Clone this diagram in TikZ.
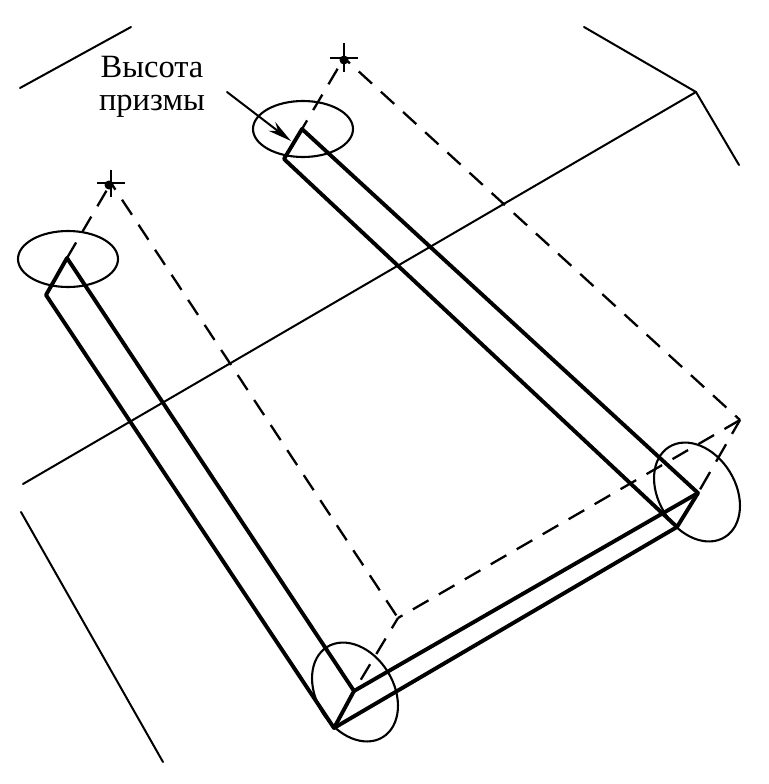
\documentclass[tikz,border=0pt]{standalone}
\usepackage{fontspec}
\setmainfont{Liberation Serif}
\usetikzlibrary{arrows.meta}
\tikzset{
  thin line/.style={line width=2pt,line cap=round,black},
  thick line/.style={line width=3.9pt,line join=round,line cap=round,black},
  dash line/.style={line width=2.3pt,dash pattern=on 18pt off 12pt,black},
  ring/.style={line width=2.1pt,black},
  mark line/.style={line width=2.5pt,black},
  label text/.style={font=\fontsize{32.5}{33}\selectfont,align=center,inner sep=0pt}
}
\begin{document}
\begin{tikzpicture}[x=1pt,y=-1pt]
\useasboundingbox (0,0) rectangle (768,784);
% named points
\coordinate (T1) at (302,129);
\coordinate (T2) at (284,159);
\coordinate (L1) at (67,258);
\coordinate (L2) at (46,295);
\coordinate (B1) at (354,691);
\coordinate (B2) at (334,728);
\coordinate (R1) at (698,493);
\coordinate (R2) at (677,527);
\coordinate (S1) at (344,58);
\coordinate (S2) at (111,183);
\coordinate (S3) at (740,420);
\coordinate (S4) at (398,618);
% thin background lines
\draw[thin line] (20,88) -- (131,27);
\draw[thin line] (584,27) -- (696,92) -- (739,165);
\draw[thin line] (23,484) -- (696,92);
\draw[thin line] (21,512) -- (163,762);
% ellipses
\draw[ring] (303,129) ellipse [x radius=50pt,y radius=28pt];
\draw[ring] (68,259) ellipse [x radius=50pt,y radius=28pt];
\draw[ring] (697,492) ellipse [x radius=53pt,y radius=38.5pt,rotate=-58.4];
\draw[ring] (355,692) ellipse [x radius=53pt,y radius=38.5pt,rotate=-58.4];
% dashed outline
\draw[dash line,dash phase=8pt] (T1) -- (S1);
\draw[dash line,dash phase=10pt] (S1) -- (S3);
\draw[dash line] (S3) -- (S4);
\draw[dash line,dash phase=6pt] (S4) -- (B1);
\draw[dash line] (L1) -- (S2);
\draw[dash line,dash phase=10pt] (S2) -- (S4);
\draw[dash line,dash pattern=on 20pt off 12pt,dash phase=4pt] (S3) -- (R1);
% prisms
\draw[thick line] (L1) -- (L2) -- (B2) -- (B1) -- cycle;
\draw[thick line] (T1) -- (T2) -- (R2) -- (R1) -- cycle;
\draw[thick line] (B1) -- (R1);
\draw[thick line] (B2) -- (R2);
% crosses
\draw[mark line] (330,58) -- (358,58) (344,43) -- (344,72);
\fill (344,60) circle (4.5pt);
\draw[mark line] (97,183) -- (125,183) (111,170) -- (111,197);
\fill (109,185) circle (4.5pt);
% label and arrow
\node[label text] (lbl) at (152,87) {Высота\\призмы};
\coordinate (A0) at (227,92);
\coordinate (A1) at (291,141);
\draw[thin line,-{Stealth[length=24pt,width=11pt]}] (A0) -- (A1);
\end{tikzpicture}
\end{document}
